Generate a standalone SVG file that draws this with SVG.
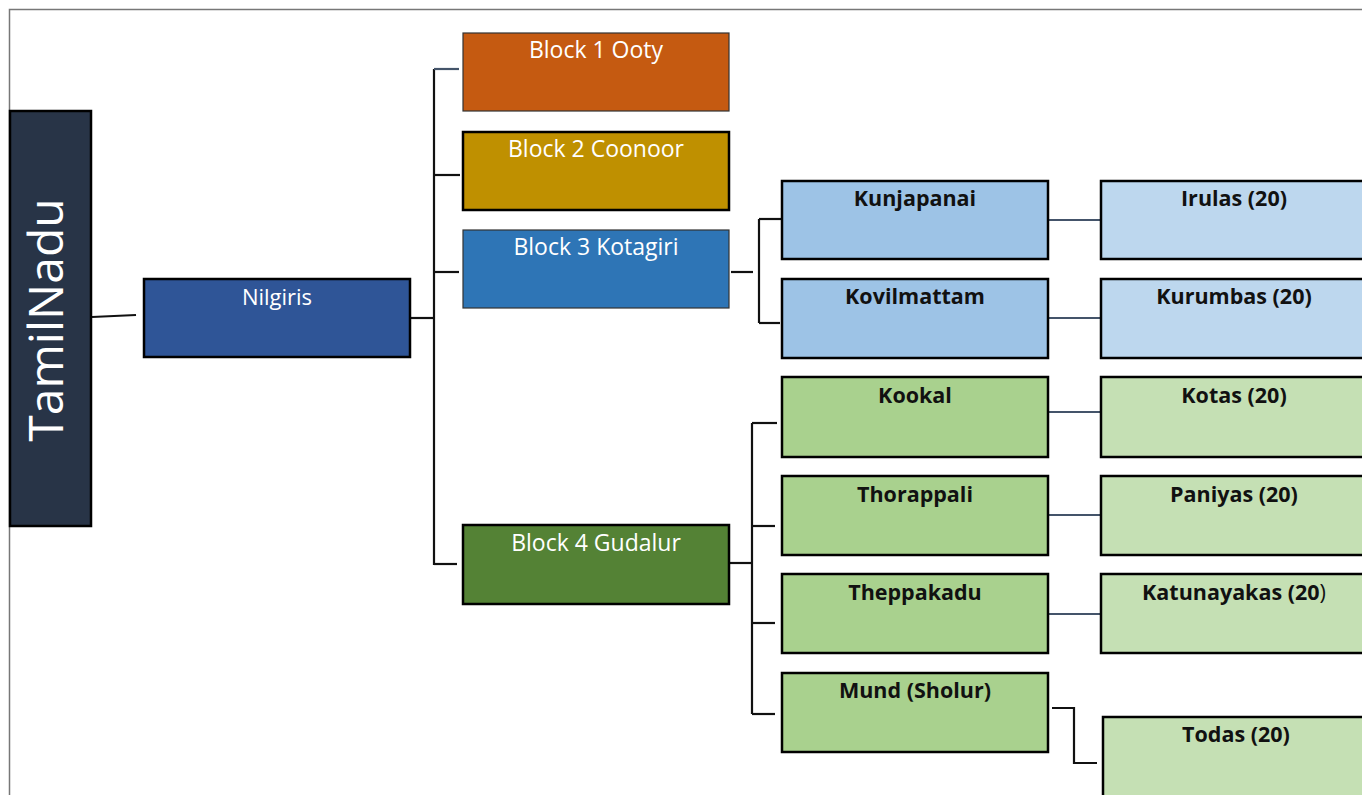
<svg xmlns="http://www.w3.org/2000/svg" width="1362" height="795" viewBox="0 0 1362 795">
<style>
.t{font-family:"Open Sans","Noto Sans",sans-serif;font-size:23px;fill:#fff;text-anchor:middle}
.b{font-family:"Open Sans","Noto Sans",sans-serif;font-size:21.5px;font-weight:bold;fill:#111;text-anchor:middle}
.thick{stroke:#000;stroke-width:2.5}
.thin{stroke:#333;stroke-width:1.2}
.c{fill:none;stroke:#111;stroke-width:2.2}
.g{fill:none;stroke:#44546a;stroke-width:2.2}
</style>
<rect x="0" y="0" width="1362" height="795" fill="#fff"/>
<path d="M9.5,795 V9.5 H1362" fill="none" stroke="#777" stroke-width="1.5"/>
<g id="connectors">
<path class="c" d="M92,317 L136,315"/>
<path class="c" d="M411,318 H434"/>
<path class="c" d="M434,69 V565"/>
<path class="g" d="M434,69 H459"/>
<path class="c" d="M434,175 H460"/>
<path class="c" d="M434,272 H459"/>
<path class="c" d="M434,564 H457"/>
<path class="c" d="M731,272 H753"/>
<path class="c" d="M759,219 V323"/>
<path class="c" d="M759,219 H781"/>
<path class="c" d="M759,323 H780"/>
<path class="g" d="M1048,220 H1102"/>
<path class="g" d="M1048,318 H1102"/>
<path class="c" d="M729,563 H752"/>
<path class="c" d="M752,423 V714"/>
<path class="c" d="M752,423 H777"/>
<path class="c" d="M752,526 H775"/>
<path class="c" d="M752,623 H775"/>
<path class="c" d="M752,714 H775"/>
<path class="g" d="M1048,412 H1102"/>
<path class="g" d="M1048,515 H1102"/>
<path class="g" d="M1048,614 H1102"/>
<path class="c" d="M1052,708 H1074 V763 H1097"/>
</g>
<g id="tamilnadu">
<rect x="10" y="111" width="81" height="415" fill="#283447" class="thick"/>
<text class="t" transform="translate(63,320) rotate(-90)" style="font-size:48px">TamilNadu</text>
</g>
<g id="nilgiris">
<rect x="144" y="279" width="266" height="78" fill="#2f5597" class="thick"/>
<text class="t" x="277" y="305" style="font-size:22px">Nilgiris</text>
</g>
<g id="block1">
<rect x="463" y="33" width="266" height="78" fill="#c55a11" class="thin"/>
<text class="t" x="596" y="58">Block 1 Ooty</text>
</g>
<g id="block2">
<rect x="463" y="132" width="266" height="78" fill="#bf9000" class="thick"/>
<text class="t" x="596" y="157">Block 2 Coonoor</text>
</g>
<g id="block3">
<rect x="463" y="230" width="266" height="78" fill="#2e75b6" class="thin"/>
<text class="t" x="596" y="255">Block 3 Kotagiri</text>
</g>
<g id="block4">
<rect x="463" y="525" width="266" height="79" fill="#548235" class="thick"/>
<text class="t" x="596" y="551">Block 4 Gudalur</text>
</g>
<g id="kunjapanai">
<rect x="782" y="181" width="266" height="78" fill="#9dc3e6" class="thick"/>
<text class="b" x="915" y="206">Kunjapanai</text>
</g>
<g id="kovilmattam">
<rect x="782" y="279" width="266" height="79" fill="#9dc3e6" class="thick"/>
<text class="b" x="915" y="304">Kovilmattam</text>
</g>
<g id="irulas">
<rect x="1101" y="181" width="270" height="78" fill="#bdd7ee" class="thick"/>
<text class="b" x="1234" y="206">Irulas (20)</text>
</g>
<g id="kurumbas">
<rect x="1101" y="279" width="270" height="79" fill="#bdd7ee" class="thick"/>
<text class="b" x="1234" y="304">Kurumbas (20)</text>
</g>
<g id="kookal">
<rect x="782" y="377" width="266" height="80" fill="#a9d18e" class="thick"/>
<text class="b" x="915" y="403">Kookal</text>
</g>
<g id="thorappali">
<rect x="782" y="476" width="266" height="79" fill="#a9d18e" class="thick"/>
<text class="b" x="915" y="502">Thorappali</text>
</g>
<g id="theppakadu">
<rect x="782" y="574" width="266" height="79" fill="#a9d18e" class="thick"/>
<text class="b" x="915" y="600">Theppakadu</text>
</g>
<g id="mund">
<rect x="782" y="673" width="266" height="79" fill="#a9d18e" class="thick"/>
<text class="b" x="915" y="698">Mund (Sholur)</text>
</g>
<g id="kotas">
<rect x="1101" y="377" width="270" height="80" fill="#c5e0b4" class="thick"/>
<text class="b" x="1234" y="403">Kotas (20)</text>
</g>
<g id="paniyas">
<rect x="1101" y="476" width="270" height="79" fill="#c5e0b4" class="thick"/>
<text class="b" x="1234" y="502">Paniyas (20)</text>
</g>
<g id="katunayakas">
<rect x="1101" y="574" width="270" height="79" fill="#c5e0b4" class="thick"/>
<text class="b" x="1234" y="600">Katunayakas (20<tspan font-weight="normal">)</tspan></text>
</g>
<g id="todas">
<rect x="1103" y="717" width="270" height="90" fill="#c5e0b4" class="thick"/>
<text class="b" x="1236" y="742">Todas (20)</text>
</g>
</svg>
